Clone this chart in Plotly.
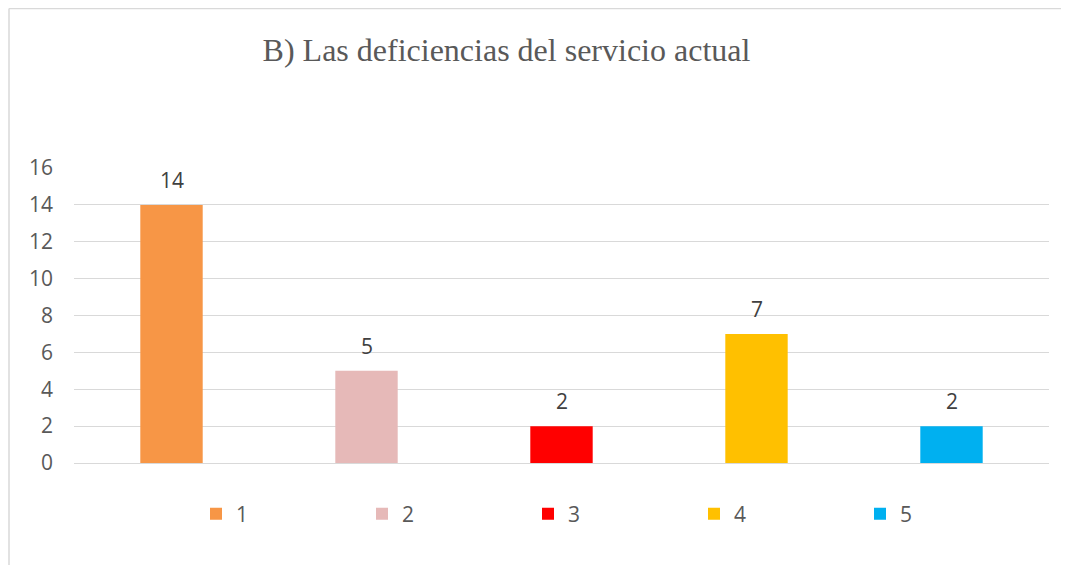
import plotly.graph_objects as go

categories = ["1", "2", "3", "4", "5"]
values = [14, 5, 2, 7, 2]
colors = ["#F79646", "#E6B9B8", "#FF0000", "#FFC000", "#00B0F0"]
title_text = "B) Las deficiencias del servicio actual"
y_ticks = [0, 2, 4, 6, 8, 10, 12, 14, 16]

# page body has an 8px margin, so the figure is sized to fill the rest
W, H = 1061, 557
L, R, T, B = 66, 20, 160, 102
PW, PH = W - L - R, H - T - B

SANS = "Open Sans"
FS = 21

fig = go.Figure()
for i, (cat, val, col) in enumerate(zip(categories, values, colors)):
    fig.add_trace(go.Bar(
        x=[cat], y=[val], name=cat,
        marker=dict(color=col, line=dict(width=0)),
        hoverinfo="skip",
    ))
    fig.add_annotation(
        x=i, y=val, xref="x", yref="y", text=str(val),
        showarrow=False, yanchor="bottom", yshift=9,
        font=dict(family=SANS, size=FS, color="#404040"),
    )

fig.update_layout(
    width=W, height=H,
    margin=dict(l=L, r=R, t=T, b=B),
    paper_bgcolor="white", plot_bgcolor="white",
    barmode="overlay", bargap=0.68,
    title=dict(
        text=title_text, x=498.5 / W, xref="container", xanchor="center",
        y=1 - 42 / H, yref="container", yanchor="middle",
        font=dict(family="Liberation Serif", size=32, color="#595959"),
    ),
    xaxis=dict(
        type="category",
        categoryorder="array", categoryarray=categories,
        showticklabels=False, showgrid=False, zeroline=False,
        showline=False, ticks="",
    ),
    yaxis=dict(
        range=[0, 16], tickvals=y_ticks, showgrid=True, gridcolor="#D9D9D9",
        gridwidth=1, zeroline=True, zerolinecolor="#D9D9D9", zerolinewidth=1,
        showline=False, ticks="", ticklabelstandoff=20,
        tickfont=dict(family=SANS, size=FS, color="#595959"),
    ),
    showlegend=True,
    legend=dict(
        orientation="h", x=(188 - L) / PW, xanchor="left",
        y=(H - B - 506) / PH, yanchor="middle",
        entrywidth=121, entrywidthmode="pixels",
        font=dict(family=SANS, size=FS, color="#595959"),
        bgcolor="rgba(0,0,0,0)",
    ),
    shapes=[
        dict(type="line", xref="paper", yref="paper",
             x0=(1 - L) / PW, x1=(W - L) / PW,
             y0=(H - B - 0.5) / PH, y1=(H - B - 0.5) / PH,
             line=dict(color="#D9D9D9", width=1.5)),
        dict(type="line", xref="paper", yref="paper",
             x0=(1 - L) / PW, x1=(1 - L) / PW,
             y0=(H - B - 0.5) / PH, y1=-B / PH,
             line=dict(color="#D9D9D9", width=1.5)),
    ],
)

fig.write_html("out.html")
